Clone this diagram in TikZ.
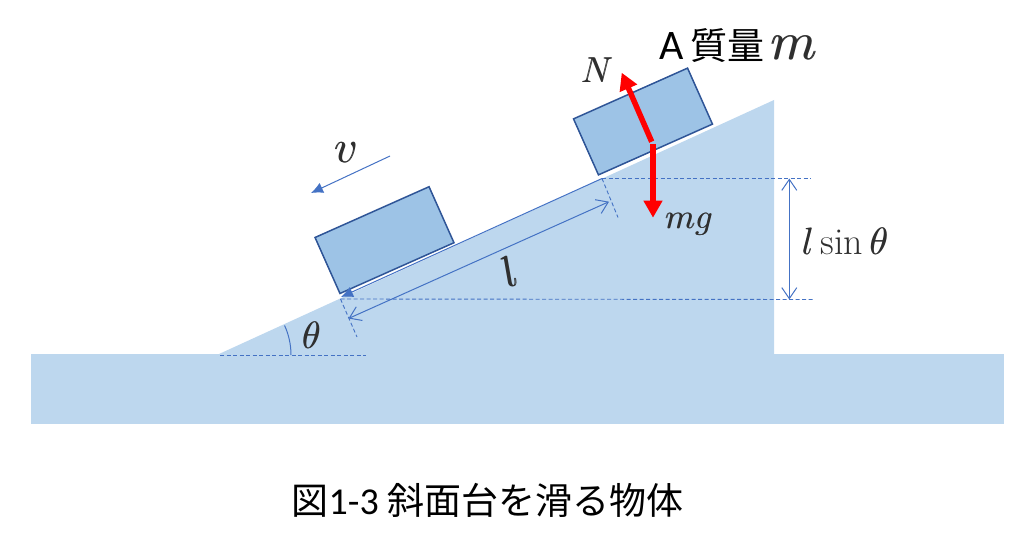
\documentclass[tikz,border=0pt]{standalone}
\usepackage{fix-cm}
\usepackage{fontspec}
\usepackage{xcolor}
\usetikzlibrary{arrows.meta}
\newfontfamily\cjkfont{Noto Sans CJK JP}
\newfontfamily\latinfont{Carlito}
\definecolor{slopeBlue}{HTML}{BDD7EE}
\definecolor{blockBlue}{HTML}{9DC3E6}
\definecolor{blockEdge}{HTML}{2F5597}
\definecolor{lineBlue}{HTML}{4472C4}
\definecolor{forceRed}{HTML}{FF0000}
\definecolor{mathDark}{HTML}{2F2F2F}
\newcommand{\heavymath}[1]{\mbox{\rlap{$#1$}\kern0.7pt$#1$}}

\begin{document}
\begin{tikzpicture}[x=1pt,y=-1pt]
        % Styles
        \tikzstyle{block} = [rectangle, minimum width=124.8pt, minimum height=61.3pt, inner sep=0pt, draw=blockEdge, line width=1.5pt, fill=blockBlue, rotate=24]
        \tikzstyle{thin line} = [color=lineBlue, line width=1pt]
        \tikzstyle{guide} = [color=lineBlue, line width=0.9pt, dash pattern=on 4pt off 2.5pt]
        \tikzstyle{dim arrow} = [thin line, {Straight Barb[length=11pt,width=15pt]}-{Straight Barb[length=11pt,width=15pt]}]
        \tikzstyle{solid tip} = [thin line, -{Latex[length=12pt,width=11pt]}]
        \tikzstyle{force} = [color=forceRed, line width=5.5pt, -{Triangle[length=17pt,width=18pt]}]
        \tikzstyle{mathlabel} = [inner sep=0pt, text=mathDark]

        \useasboundingbox (0,0) rectangle (1035,548);

        % Table and slope
        \fill [slopeBlue] (31,354) rectangle (1004,424);
        \fill [slopeBlue] (219,354) -- (774,100) -- (774,354) -- cycle;

        % Points
        \coordinate (foot) at (220,355);
        \coordinate (top) at (602,178.5);
        \coordinate (low) at (340.5,299);
        \coordinate (lowtip) at (341,297);
        \coordinate (footend) at (366,355);
        \coordinate (topend) at (811,178.5);
        \coordinate (lowend) at (813,299.5);
        \coordinate (topperp) at (618,217.5);
        \coordinate (lowperp) at (357,337);
        \coordinate (dimtop) at (609,201.7);
        \coordinate (dimlow) at (348.5,318.5);
        \coordinate (htop) at (789.3,178.5);
        \coordinate (hlow) at (789.3,299.5);
        \coordinate (vstart) at (390,156);
        \coordinate (vend) at (311,193);
        \coordinate (nstart) at (651.7,141.7);
        \coordinate (ntip) at (621.7,72.7);
        \coordinate (gstart) at (653,144);
        \coordinate (gtip) at (653,217.7);

        % Nodes
        \node (lowblock) [block] at (384.5,240.1) {};
        \node (topblock) [block] at (643,121.5) {};

        \node (vlabel) [mathlabel] at (346,153) {\fontsize{46}{50}\selectfont \heavymath{v}};
        \node (nlabel) [mathlabel] at (597,70) {\fontsize{36}{40}\selectfont \heavymath{N}};
        \node (mglabel) [mathlabel] at (689,224) {\fontsize{35}{40}\selectfont \heavymath{mg}};
        \node (llabel) [mathlabel, rotate=24] at (509,272) {\fontsize{44}{48}\selectfont \heavymath{l}};
        \node (hlabel) [mathlabel] at (845,241) {\fontsize{38}{44}\selectfont \heavymath{l}$\,\sin\,$\heavymath{\theta}};
        \node (anglelabel) [mathlabel] at (311.5,335) {\fontsize{38}{44}\selectfont \heavymath{\theta}};
        \node (masslabel) [inner sep=0pt, anchor=base west] at (659,60) {\fontsize{42}{44}\selectfont\latinfont A\,\fontsize{37}{44}\selectfont\cjkfont 質量\,\textcolor{mathDark}{\fontsize{54}{58}\selectfont \heavymath{m}}};
        \node (caption) [inner sep=0pt, anchor=base] at (487.5,514) {\fontsize{37}{42}\selectfont\cjkfont 図{\fontsize{38}{42}\selectfont\latinfont 1-3 }斜面台を滑る物体};

        % Guides
        \draw [guide] (foot) -- (footend);
        \draw [guide] (low) -- (lowend);
        \draw [guide] (top) -- (topend);
        \draw [guide] (top) -- (topperp);
        \draw [guide] (low) -- (lowperp);
        \draw [thin line] (foot) ++(0:71) arc (0:-24.6:71);

        % Arrows
        \draw [solid tip] (top) -- (lowtip);
        \draw [solid tip] (vstart) -- (vend);
        \draw [dim arrow] (dimlow) -- (dimtop);
        \draw [dim arrow] (hlow) -- (htop);
        \draw [force] (nstart) -- (ntip);
        \draw [force] (gstart) -- (gtip);
\end{tikzpicture}
\end{document}
